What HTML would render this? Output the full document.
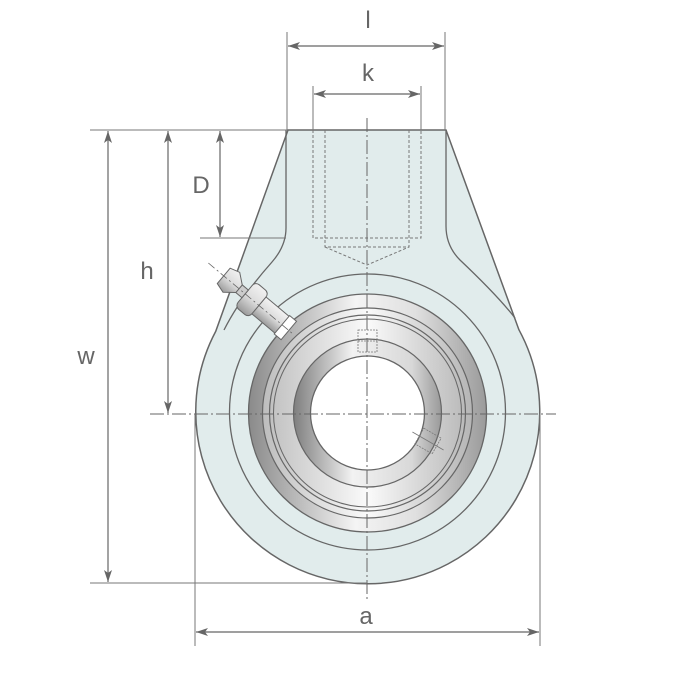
<!DOCTYPE html>
<html><head><meta charset="utf-8"><style>
html,body{margin:0;padding:0;background:#fff;}
svg{display:block;}
text{font-family:"Liberation Sans",sans-serif;fill:#666;}
</style></head><body>
<svg width="700" height="700" viewBox="0 0 700 700" xmlns="http://www.w3.org/2000/svg">
<defs>
<linearGradient id="g1" x1="0" x2="1" y1="0" y2="0">
<stop offset="0" stop-color="#8a8a8a"/><stop offset="0.45" stop-color="#f4f4f4"/><stop offset="0.7" stop-color="#e0e0e0"/><stop offset="1" stop-color="#9a9a9a"/>
</linearGradient>
<linearGradient id="g2" x1="0" x2="1" y1="0" y2="0">
<stop offset="0" stop-color="#bdbdbd"/><stop offset="0.5" stop-color="#fafafa"/><stop offset="1" stop-color="#b5b5b5"/>
</linearGradient>
<linearGradient id="g3" x1="0" x2="1" y1="0" y2="0">
<stop offset="0" stop-color="#7e7e7e"/><stop offset="0.4" stop-color="#f2f2f2"/><stop offset="0.8" stop-color="#d8d8d8"/><stop offset="1" stop-color="#999"/>
</linearGradient>
<linearGradient id="gn" x1="0" x2="0" y1="0" y2="1">
<stop offset="0" stop-color="#f2f2f2"/><stop offset="0.5" stop-color="#dcdcdc"/><stop offset="1" stop-color="#9a9a9a"/>
</linearGradient>
<marker id="ar" viewBox="0 0 12 8" refX="12" refY="4" markerWidth="12" markerHeight="8" orient="auto-start-reverse" markerUnits="userSpaceOnUse">
<path d="M0,0 L12,4 L0,8 L3,4 Z" fill="#666"/>
</marker>
</defs>

<!-- housing -->
<path d="M288,130 L446,130 L518.9,329.7 A172,172 0 1 1 215.7,331.4 Z" fill="#e1ecec" stroke="#666" stroke-width="1.5"/>
<path d="M286,130 L286,228 Q286,246 272,262 Q240,298 224,330" fill="none" stroke="#666" stroke-width="1.3"/>
<path d="M446,130 L446,226 Q446,246 460,260 Q498,296 515,318" fill="none" stroke="#666" stroke-width="1.3"/>
<circle cx="367.5" cy="412" r="138" fill="none" stroke="#666" stroke-width="1.3"/>

<!-- hidden thread -->
<g fill="none" stroke="#777" stroke-width="1" stroke-dasharray="3,2">
<path d="M313,130 V238 H421 V130"/>
<path d="M325,130 V247 H409 V130"/>
<path d="M325,247 L367,265 L409,247"/>
</g>

<!-- bearing -->
<circle cx="367.5" cy="413" r="119" fill="url(#g1)" stroke="#666" stroke-width="1.3"/>
<circle cx="367.5" cy="413" r="105" fill="url(#g2)" stroke="#666" stroke-width="1.2"/>
<circle cx="367.5" cy="413" r="98" fill="none" stroke="#666" stroke-width="1.2"/>
<circle cx="367.5" cy="413" r="94" fill="none" stroke="#666" stroke-width="1"/>
<circle cx="367.5" cy="413" r="74" fill="url(#g3)" stroke="#666" stroke-width="1.2"/>
<circle cx="367.5" cy="413" r="57" fill="#fff" stroke="#666" stroke-width="1.3"/>
<g fill="none" stroke="#777" stroke-width="0.8" stroke-dasharray="2,1">
<rect x="358" y="330" width="19" height="22"/>
<line x1="358" y1="341" x2="377" y2="341"/>
<g transform="translate(428,441) rotate(30)"><rect x="-10" y="-9" width="20" height="18"/><line x1="-18" y1="0" x2="18" y2="0" stroke-dasharray="none"/></g>
</g>

<!-- grease nipple -->
<g transform="translate(262,308) rotate(40)">
<rect x="-6" y="-11" width="36" height="22" fill="url(#gn)" stroke="#666" stroke-width="1"/>
<rect x="26" y="-12" width="9" height="24" fill="#fff" stroke="#666" stroke-width="1"/>
<rect x="-22" y="-16" width="18" height="32" rx="5" fill="url(#gn)" stroke="#666" stroke-width="1"/>
<path d="M-30,-5 L-22,-5 L-22,5 L-30,5 Z" fill="#ccc" stroke="#666"/>
<path d="M-50,-10 L-40,-13 L-30,-5 L-30,5 L-40,13 L-50,10 Z" fill="url(#gn)" stroke="#666" stroke-width="1"/>
<line x1="-70" y1="0" x2="40" y2="0" stroke="#666" stroke-width="0.8" stroke-dasharray="8,3,2,3"/>
</g>

<!-- centerlines -->
<g stroke="#666" stroke-width="1" stroke-dasharray="14,3,2,3">
<line x1="367" y1="118" x2="367" y2="600"/>
<line x1="150" y1="414" x2="556" y2="414"/>
</g>

<!-- extension lines -->
<g stroke="#777" stroke-width="1">
<line x1="287" y1="32" x2="287" y2="130"/>
<line x1="445" y1="32" x2="445" y2="130"/>
<line x1="313" y1="86" x2="313" y2="130"/>
<line x1="421" y1="86" x2="421" y2="130"/>
<line x1="90" y1="130" x2="288" y2="130"/>
<line x1="200" y1="238" x2="286" y2="238"/>
<line x1="90" y1="583" x2="367" y2="583"/>
<line x1="195" y1="414" x2="195" y2="646"/>
<line x1="540" y1="414" x2="540" y2="646"/>
</g>

<!-- dimension lines -->
<g stroke="#666" stroke-width="1.2" marker-start="url(#ar)" marker-end="url(#ar)">
<line x1="288" y1="46" x2="444" y2="46"/>
<line x1="314" y1="94" x2="420" y2="94"/>
<line x1="220" y1="131" x2="220" y2="237"/>
<line x1="168" y1="131" x2="168" y2="413"/>
<line x1="108" y1="131" x2="108" y2="582"/>
<line x1="196" y1="632" x2="539" y2="632"/>
</g>

<text x="368" y="28" font-size="24" text-anchor="middle">l</text>
<text x="368" y="81" font-size="24" text-anchor="middle">k</text>
<text x="201" y="193" font-size="24" text-anchor="middle">D</text>
<text x="147" y="279" font-size="24" text-anchor="middle">h</text>
<text x="86" y="364" font-size="24" text-anchor="middle">w</text>
<text x="366" y="624" font-size="24" text-anchor="middle">a</text>
</svg>
</body></html>
